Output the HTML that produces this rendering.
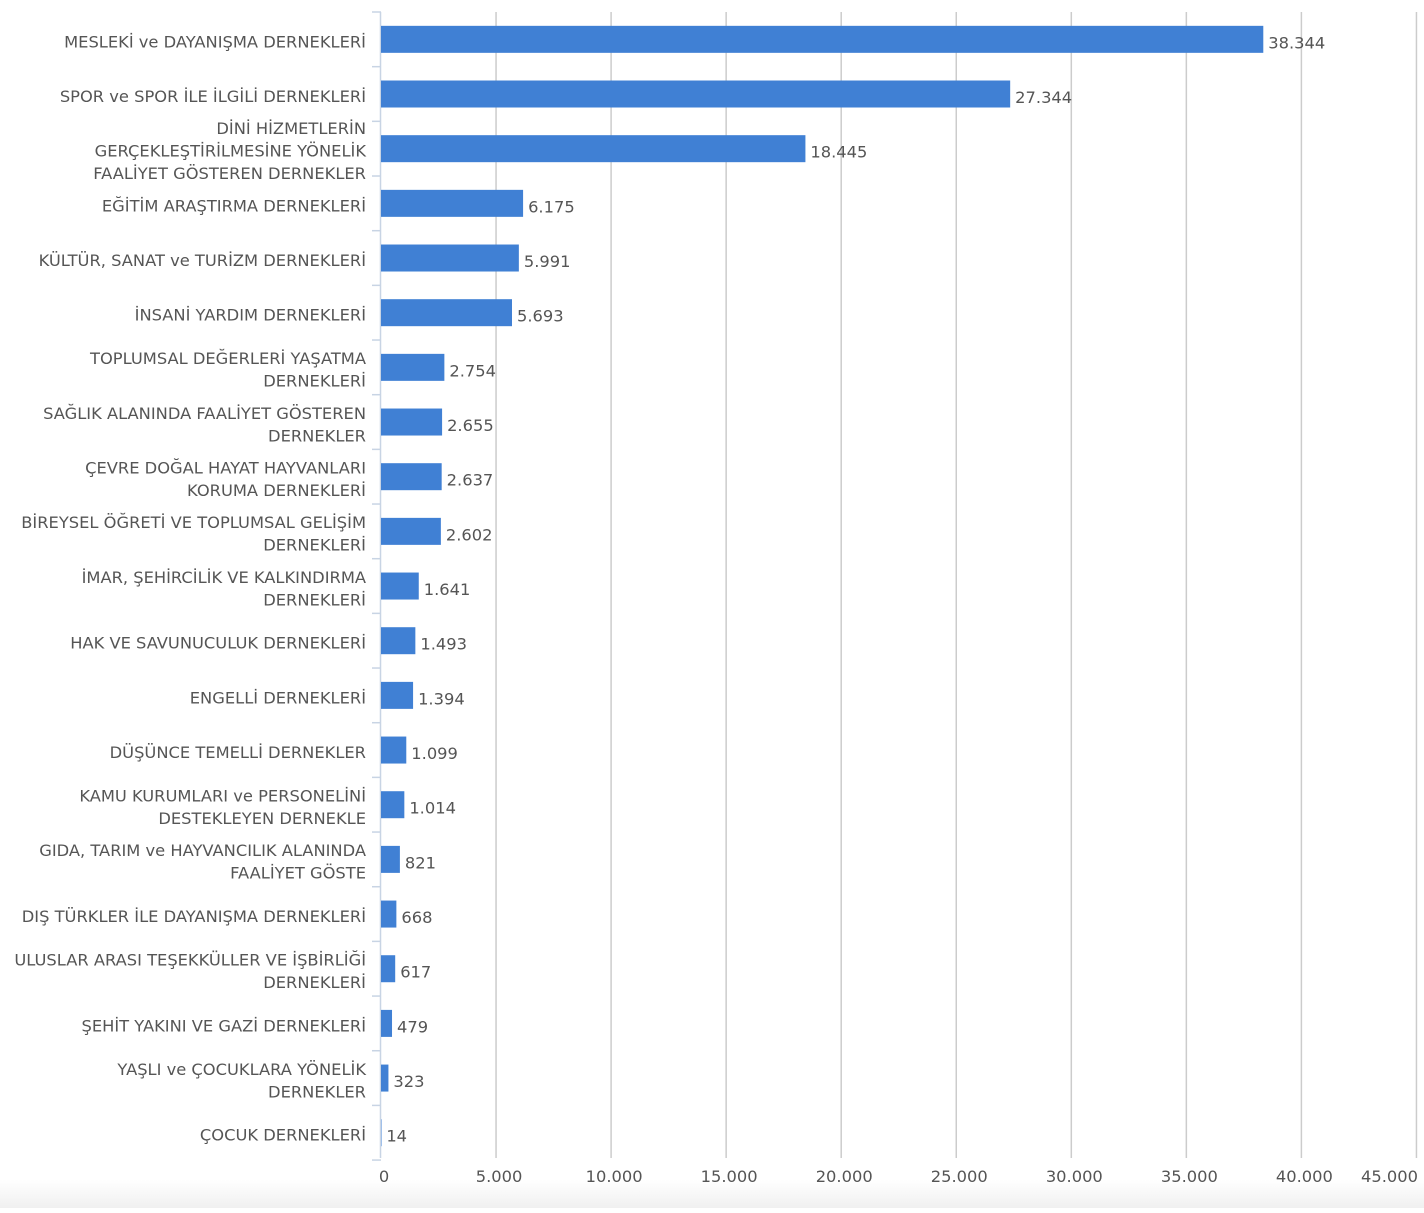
<!DOCTYPE html>
<html><head><meta charset="utf-8"><style>
body{margin:0;background:#fff}
svg text{font-family:"DejaVu Sans","Liberation Sans",sans-serif;font-size:16.3px;fill:#555}
</style></head><body>
<svg width="1424" height="1208" xmlns="http://www.w3.org/2000/svg">
<defs><linearGradient id="g" x1="0" y1="0" x2="0" y2="1"><stop offset="0" stop-color="#fff"/><stop offset="1" stop-color="#f0f0f0"/></linearGradient></defs>
<rect x="0" y="1180" width="1424" height="28" fill="url(#g)"/>
<g id="c"></g>
</svg>
<script>
(function(){
var data=[
[["MESLEKİ ve DAYANIŞMA DERNEKLERİ"],38344,"38.344"],
[["SPOR ve SPOR İLE İLGİLİ DERNEKLERİ"],27344,"27.344"],
[["DİNİ HİZMETLERİN","GERÇEKLEŞTİRİLMESİNE YÖNELİK","FAALİYET GÖSTEREN DERNEKLER"],18445,"18.445"],
[["EĞİTİM ARAŞTIRMA DERNEKLERİ"],6175,"6.175"],
[["KÜLTÜR, SANAT ve TURİZM DERNEKLERİ"],5991,"5.991"],
[["İNSANİ YARDIM DERNEKLERİ"],5693,"5.693"],
[["TOPLUMSAL DEĞERLERİ YAŞATMA","DERNEKLERİ"],2754,"2.754"],
[["SAĞLIK ALANINDA FAALİYET GÖSTEREN","DERNEKLER"],2655,"2.655"],
[["ÇEVRE DOĞAL HAYAT HAYVANLARI","KORUMA DERNEKLERİ"],2637,"2.637"],
[["BİREYSEL ÖĞRETİ VE TOPLUMSAL GELİŞİM","DERNEKLERİ"],2602,"2.602"],
[["İMAR, ŞEHİRCİLİK VE KALKINDIRMA","DERNEKLERİ"],1641,"1.641"],
[["HAK VE SAVUNUCULUK DERNEKLERİ"],1493,"1.493"],
[["ENGELLİ DERNEKLERİ"],1394,"1.394"],
[["DÜŞÜNCE TEMELLİ DERNEKLER"],1099,"1.099"],
[["KAMU KURUMLARI ve PERSONELİNİ","DESTEKLEYEN DERNEKLE"],1014,"1.014"],
[["GIDA, TARIM ve HAYVANCILIK ALANINDA","FAALİYET GÖSTE"],821,"821"],
[["DIŞ TÜRKLER İLE DAYANIŞMA DERNEKLERİ"],668,"668"],
[["ULUSLAR ARASI TEŞEKKÜLLER VE İŞBİRLİĞİ","DERNEKLERİ"],617,"617"],
[["ŞEHİT YAKINI VE GAZİ DERNEKLERİ"],479,"479"],
[["YAŞLI ve ÇOCUKLARA YÖNELİK","DERNEKLER"],323,"323"],
[["ÇOCUK DERNEKLERİ"],14,"14"]];
var x0=381,k=115.05/5000,y0=12,h=54.67,s="",i;
for(i=1;i<=9;i++){var x=x0+i*115.05;s+='<line x1="'+x+'" y1="12" x2="'+x+'" y2="1158" stroke="#ccc" stroke-width="1.5"/>';}
for(i=0;i<=8;i++){var x=x0+i*115.05;s+='<text x="'+(x+3)+'" y="1182" text-anchor="middle" font-size="16">'+(i?(i*5)+".000":"0")+'</text>';}
s+='<text x="1418" y="1182" text-anchor="end" font-size="16">45.000</text>';
s+='<line x1="380.5" y1="12" x2="380.5" y2="1158" stroke="#c8d4e4" stroke-width="1.5"/>';
for(i=0;i<=21;i++){var y=y0+i*h;s+='<line x1="372" y1="'+y+'" x2="381" y2="'+y+'" stroke="#c8d4e4" stroke-width="1.5"/>';}
data.forEach(function(d,i){var c=y0+h*i+h/2;var w=d[1]*k;
s+='<rect x="381" y="'+(c-13.5)+'" width="'+Math.max(w,0.5)+'" height="27" fill="#4080d4"/>';
s+='<text x="'+(381+w+5)+'" y="'+(c+9)+'" font-size="16">'+d[2]+'</text>';
var n=d[0].length;d[0].forEach(function(t,j){var y=c+8+(j-(n-1)/2)*22.5;s+='<text x="366" y="'+y+'" text-anchor="end">'+t+'</text>';});});
document.getElementById("c").innerHTML=s;
})();
</script>
</body></html>
